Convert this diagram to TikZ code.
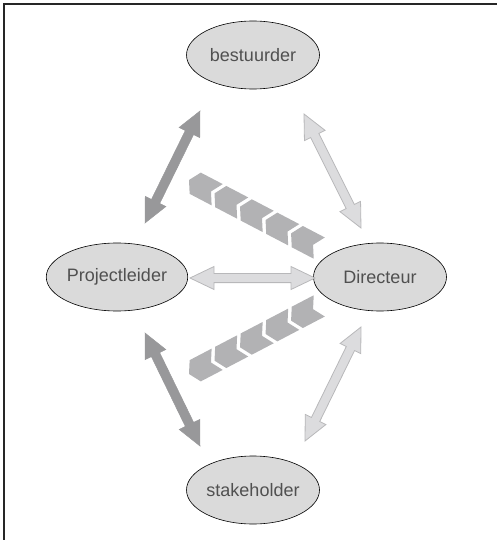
\documentclass[tikz,border=0pt]{standalone}
\usepackage{fontspec}
\setmainfont{Liberation Sans}
\usetikzlibrary{calc,shapes.geometric}
\definecolor{ellfill}{HTML}{DADADA}
\definecolor{txtgrey}{HTML}{505050}
\definecolor{darkgrey}{HTML}{98989A}
\definecolor{lightgrey}{HTML}{DCDCDE}
\definecolor{lightedge}{HTML}{B8B8BA}
\definecolor{chevgrey}{HTML}{B2B2B4}
\tikzset{
  role/.style={ellipse, draw=black, line width=0.6pt, fill=ellfill, minimum width=133pt,
    minimum height=68pt, inner sep=0pt, text=txtgrey, font=\fontsize{18}{20}\selectfont},
  darkarrow/.style={fill=darkgrey, draw=darkgrey, line width=0.5pt},
  lightarrow/.style={fill=lightgrey, draw=lightedge, line width=0.8pt},
  chev/.style={fill=chevgrey}
}
\newcommand\hl{24pt}
\newcommand\hw{11.5pt}
\newcommand\sw{4.6pt}
\newcommand\dblarrow[3]{%
  \draw[#1] let \p1=($(#3)-(#2)$), \n1={atan2(\y1,\x1)} in
    (#2) -- ($(#2)+(\n1:\hl)+({\n1+90}:\hw)$) -- ($(#2)+(\n1:\hl)+({\n1+90}:\sw)$)
    -- ($(#3)-(\n1:\hl)+({\n1+90}:\sw)$) -- ($(#3)-(\n1:\hl)+({\n1+90}:\hw)$) -- (#3)
    -- ($(#3)-(\n1:\hl)-({\n1+90}:\hw)$) -- ($(#3)-(\n1:\hl)-({\n1+90}:\sw)$)
    -- ($(#2)+(\n1:\hl)-({\n1+90}:\sw)$) -- ($(#2)+(\n1:\hl)-({\n1+90}:\hw)$) -- cycle;}
\begin{document}
\begin{tikzpicture}[x=1pt, y=-1pt]
  \useasboundingbox (0,0) rectangle (497,540);
  \draw[line width=1.6pt, color=black!85] (497,4) -- (4,4) -- (4,540);

  \node[role] (bestuurder) at (253,55) {bestuurder};
  \node[role] (projectleider) at (117,277) {Projectleider};
  \node[role] (directeur) at (380,277) {Directeur};
  \node[role] (stakeholder) at (253,490) {stakeholder};

  \coordinate (b-pl) at (200,111);
  \coordinate (pl-b) at (145,223);
  \coordinate (b-d) at (304,114);
  \coordinate (d-b) at (361,228);
  \coordinate (pl-d) at (190,278);
  \coordinate (d-pl) at (315,278);
  \coordinate (pl-s) at (145,333);
  \coordinate (s-pl) at (200,446);
  \coordinate (d-s) at (361,327);
  \coordinate (s-d) at (305,441);

  \dblarrow{darkarrow}{b-pl}{pl-b}
  \dblarrow{lightarrow}{b-d}{d-b}
  \dblarrow{lightarrow}{pl-d}{d-pl}
  \dblarrow{darkarrow}{pl-s}{s-pl}
  \dblarrow{lightarrow}{d-s}{s-d}

  % chevrons
  \begin{scope}[shift={(189,180)}, rotate=-27.6]
    \foreach \i in {0,...,4}
      \fill[chev, xshift=\i*28.8pt] (0,0) -- (7,-12) -- (31.8,-12) -- (24.8,0) -- (31.8,12) -- (7,12) -- cycle;
  \end{scope}
  \begin{scope}[shift={(189,374)}, rotate=27.6]
    \foreach \i in {0,...,4}
      \fill[chev, xshift=\i*28.8pt] (0,0) -- (7,-12) -- (31.8,-12) -- (24.8,0) -- (31.8,12) -- (7,12) -- cycle;
  \end{scope}
\end{tikzpicture}
\end{document}
